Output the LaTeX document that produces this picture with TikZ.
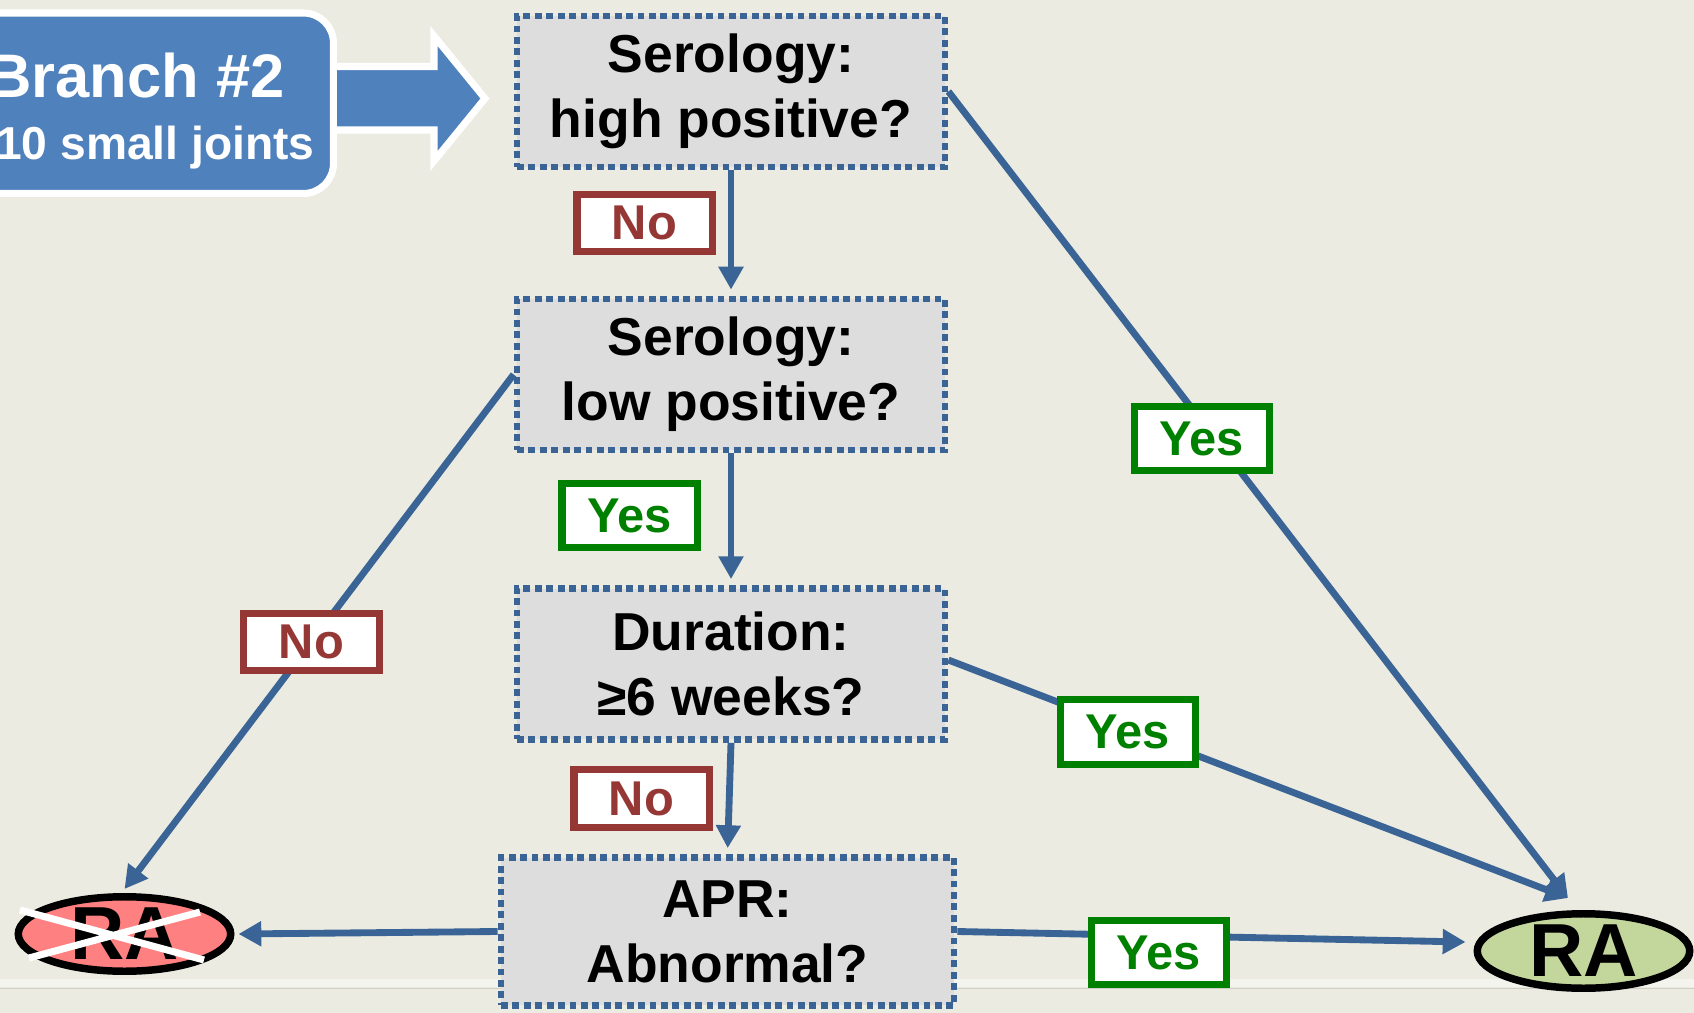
\documentclass[tikz,border=0pt]{standalone}
\usepackage{fontspec}
\setmainfont{Liberation Sans}
\usetikzlibrary{shapes.geometric,arrows.meta}

\definecolor{bg}{HTML}{ECEBE1}
\definecolor{stripe}{HTML}{F4F4EE}
\definecolor{flowblue}{HTML}{3A6495}
\definecolor{branchblue}{HTML}{4F81BD}
\definecolor{qgray}{HTML}{DDDDDD}
\definecolor{nored}{HTML}{953735}
\definecolor{yesgreen}{HTML}{008000}
\definecolor{rapink}{HTML}{FF8080}
\definecolor{ragreen}{HTML}{C3D69B}

\tikzset{
  question/.style={rectangle, fill=qgray, draw=flowblue, line width=3.9pt,
    dash pattern=on 3.9pt off 2.6pt, minimum width=8.56cm, minimum height=3.02cm,
    inner sep=0pt, align=center, font=\fontsize{30.4}{36.9}\selectfont\bfseries},
  flow/.style={draw=flowblue, line width=3.9pt, -{Triangle[length=13pt,width=13.6pt]}},
  answer/.style={rectangle, fill=white, line width=4.25pt, minimum width=2.71cm,
    inner sep=0pt, font=\fontsize{27.8}{30}\selectfont\bfseries},
  noans/.style={answer, draw=nored, text=nored, minimum height=1.15cm},
  yesans/.style={answer, draw=yesgreen, text=yesgreen, minimum height=1.29cm},
  outcome/.style={ellipse, draw=black, line width=4.25pt, minimum width=4.25cm,
    minimum height=1.49cm, inner sep=0pt, font=\fontsize{42.8}{44}\selectfont\bfseries},
  branchtext/.style={text=white, inner sep=0pt, anchor=base east},
}

\begin{document}
\begin{tikzpicture}[x=0.02cm, y=-0.02cm]
\useasboundingbox (0,0) rectangle (1694,1013);
\clip (0,0) rectangle (1694,1013);

% background and footer band
\fill[bg] (0,0) rectangle (1694,1013);
\fill[stripe] (0,979) rectangle (1694,987);
\draw[line width=0.8pt, bg!88!black] (0,988.5) -- (1694,988.5);

% block arrow leaving the branch box
\draw[fill=branchblue, draw=white, line width=4pt, line join=miter]
  (320,66.5) -- (434,66.5) -- (434,36) -- (485,98.5) -- (434,161)
  -- (434,130) -- (320,130) -- cycle;

% branch box
\node[draw=white, fill=branchblue, line width=4pt, rounded corners=0.6cm,
      minimum width=9.67cm, minimum height=3.61cm, inner sep=0pt]
      (branch) at (91.75,103.25) {};
\node[branchtext, font=\fontsize{35}{40}\selectfont\bfseries]
      (branchtitle) at (285,98) {Branch \#2};
\node[branchtext, font=\fontsize{26.3}{30}\selectfont\bfseries]
      (branchsub) at (315,160) {10 small joints};

% decision boxes
\node[question] (q1) at (731,91.5) {Serology:\\high positive?};
\node[question] (q2) at (731,374.5) {Serology:\\low positive?};
\node[question] (q3) at (731,664) {Duration:\\≥6 weeks?};
\node[question, minimum width=9.06cm, minimum height=2.96cm]
      (q4) at (727.5,931.5) {APR:\\Abnormal?};

% outcomes
\node[outcome, fill=rapink] (noRA) at (124.5,934) {RA};
\draw[white, line width=4pt] (20,910) -- (204,960) (29,958) -- (200,912);
\node[outcome, fill=ragreen] (yesRA) at (1583.5,951) {RA};

% connectors
\draw[flow, shorten >=0.12cm] (q1.south) -- (q2.north);
\draw[flow, shorten >=0.12cm] (q2.south) -- (q3.north);
\draw[flow, shorten >=0.12cm] (q3.south) -- (q4.north);
\draw[flow] (q1.east) -- ([xshift=-0.31cm,yshift=0.24cm]yesRA.north);
\draw[flow] ([yshift=0.08cm]q3.east) -- ([xshift=-0.31cm,yshift=0.24cm]yesRA.north);
\draw[flow] (q4.east) -- ([xshift=-0.16cm,yshift=0.18cm]yesRA.west);
\draw[flow] (q2.west) -- ([yshift=0.08cm]noRA.north);
\draw[flow] (q4.west) -- ([xshift=0.08cm]noRA.east);

% answer labels
\node[noans]  (no1)  at (644.5,223)   {No};
\node[yesans] (yes1) at (1202,438.5)  {Yes};
\node[yesans] (yes2) at (629.5,515.5) {Yes};
\node[noans]  (no2)  at (311.5,642)   {No};
\node[yesans] (yes3) at (1128,732)    {Yes};
\node[noans]  (no3)  at (641.5,798.5) {No};
\node[yesans] (yes4) at (1159,952.5)  {Yes};
\end{tikzpicture}
\end{document}
